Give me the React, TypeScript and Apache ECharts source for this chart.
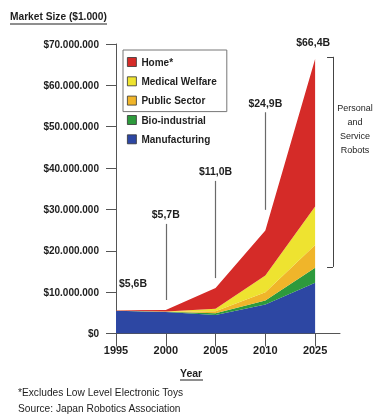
import React, { useEffect, useRef } from "react";
import * as echarts from "echarts";

// Values in billions of $ (= millions of the $1.000 unit on the axis)
const years = ["1995", "2000", "2005", "2010", "2025"];
const manufacturing = [5.5, 5.2, 4.5, 7.0, 12.3];
const bioIndustrial = [0.03, 0.03, 0.4, 1.0, 3.6];
const publicSector = [0.02, 0.03, 0.5, 2.0, 5.5];
const medicalWelfare = [0.02, 0.04, 0.6, 4.0, 9.3];
const home = [0.03, 0.4, 5.0, 10.9, 35.7];
const totalLabels = ["$5,6B", "$5,7B", "$11,0B", "$24,9B", "$66,4B"];
const totals = [5.6, 5.7, 11.0, 24.9, 66.4];
const yTicks = [0, 10, 20, 30, 40, 50, 60, 70];

// leader lines (value range, in axis units)
const leaderTop = [null, 26.5, 36.9, 53.5, null];
const leaderBottom = [null, 8.1, 13.4, 29.9, null];

const FONT = "'Liberation Sans', Arial, sans-serif";
const TXT = "#1e1e1e";
const COLORS = {
  home: "#d52b28",
  medical: "#eee330",
  public: "#f0b52a",
  bio: "#2d9a3c",
  manu: "#2d47a3",
};

export default function App() {
  const ref = useRef<HTMLDivElement>(null);
  useEffect(() => {
    if (!ref.current) return;
    const chart = echarts.init(ref.current, null, { renderer: "svg" });
    const xs = years.map((_, i) => i);
    const mk = (name: string, data: number[], color: string, extra: any = {}) => ({
      name,
      type: "line",
      stack: "total",
      // value first so that the stack is computed on the y dimension
      data: data.map((v, i) => [v, i]),
      encode: { x: 1, y: 0 },
      symbol: "none",
      lineStyle: { width: 0 },
      itemStyle: { color },
      areaStyle: { color, opacity: 1 },
      ...extra,
    });
    const leaderData: any[] = [];
    years.forEach((_, i) => {
      if (leaderTop[i] != null) {
        leaderData.push([
          { coord: [i, leaderBottom[i]], name: totalLabels[i] },
          { coord: [i, leaderTop[i]] },
        ]);
      }
    });
    const bx = 4.36;
    const bxl = 4.24;
    const bLow = 16.1;
    const bHigh = 66.9;
    const legendText = { color: TXT, fontFamily: FONT, fontWeight: "bold", fontSize: 10, lineHeight: 12 };
    chart.setOption({
      animation: false,
      grid: { left: 116, right: 34, top: 44, bottom: 83.5 },
      xAxis: {
        type: "value",
        min: 0,
        max: 4.5,
        interval: 1,
        splitLine: { show: false },
        axisLine: { show: true, lineStyle: { color: "#555", width: 1 } },
        axisTick: { show: true, length: 13, customValues: xs, lineStyle: { color: "#555" } },
        axisLabel: {
          customValues: xs,
          formatter: (v: number) => years[v] ?? "",
          color: TXT,
          fontFamily: FONT,
          fontWeight: "bold",
          fontSize: 11,
          margin: 11,
        },
      },
      yAxis: {
        type: "value",
        min: 0,
        max: 70,
        interval: 10,
        splitLine: { show: false },
        axisLine: { show: true, lineStyle: { color: "#555", width: 1 } },
        axisTick: { show: true, length: 10, lineStyle: { color: "#555" } },
        axisLabel: {
          customValues: yTicks,
          formatter: (v: number) => (v === 0 ? "$0" : `$${v}.000.000`),
          color: TXT,
          fontFamily: FONT,
          fontWeight: "bold",
          fontSize: 10,
          margin: 17,
        },
      },
      legend: [
        {
          data: ["Home*", "Medical Welfare", "Public Sector"],
          orient: "vertical",
          left: 123,
          top: 50,
          padding: [6, 10, 5, 4],
          itemGap: 7.3,
          itemWidth: 9,
          itemHeight: 9,
          itemTextGap: 5,
          icon: "rect",
          borderColor: "#777",
          borderWidth: 1,
          itemStyle: { borderColor: "#333", borderWidth: 0.8 },
          textStyle: legendText,
        },
        {
          data: ["Bio-industrial", "Manufacturing"],
          orient: "vertical",
          left: 127,
          top: 114,
          padding: 0,
          itemGap: 7.3,
          itemWidth: 9,
          itemHeight: 9,
          itemTextGap: 5,
          icon: "rect",
          itemStyle: { borderColor: "#333", borderWidth: 0.8 },
          textStyle: legendText,
        },
      ],
      series: [
        mk("Manufacturing", manufacturing, COLORS.manu, {
          markLine: {
            silent: true,
            symbol: ["none", "none"],
            lineStyle: { color: "#6a6a6a", width: 1.2, type: "solid" },
            label: {
              show: true,
              position: "end",
              formatter: "{b}",
              distance: 4,
              color: TXT,
              fontFamily: FONT,
              fontWeight: "bold",
              fontSize: 10.5,
            },
            data: leaderData,
          },
        }),
        mk("Bio-industrial", bioIndustrial, COLORS.bio),
        mk("Public Sector", publicSector, COLORS.public),
        mk("Medical Welfare", medicalWelfare, COLORS.medical),
        mk("Home*", home, COLORS.home, {
          markLine: {
            silent: true,
            symbol: ["none", "none"],
            lineStyle: { color: "#444", width: 1, type: "solid" },
            label: { show: false },
            data: [
              [{ coord: [bx, bLow] }, { coord: [bx, bHigh] }],
              [{ coord: [bxl, bHigh] }, { coord: [bx, bHigh] }],
              [{ coord: [bxl, bLow] }, { coord: [bx, bLow] }],
            ],
          },
          markPoint: {
            silent: true,
            symbol: "circle",
            symbolSize: 1,
            itemStyle: { color: "rgba(0,0,0,0)" },
            label: {
              show: true,
              position: "inside",
              formatter: "{b}",
              color: TXT,
              fontFamily: FONT,
              fontWeight: "bold",
              fontSize: 10.5,
            },
            data: [
              { coord: [0, totals[0]], name: totalLabels[0], label: { offset: [17, -27] } },
              { coord: [4, totals[4]], name: totalLabels[4], label: { offset: [-2, -17] } },
            ],
          },
        }),
      ],
      graphic: [
        {
          type: "text",
          left: 10,
          top: 11,
          style: { text: "Market Size ($1.000)", fill: TXT, font: `bold 10.2px ${FONT}` },
        },
        { type: "line", shape: { x1: 10, y1: 24, x2: 107, y2: 24 }, style: { stroke: TXT, lineWidth: 1 } },
        {
          type: "text",
          left: 180,
          top: 367,
          style: { text: "Year", fill: TXT, font: `bold 10.5px ${FONT}` },
        },
        { type: "line", shape: { x1: 180, y1: 380, x2: 203, y2: 380 }, style: { stroke: TXT, lineWidth: 1 } },
        {
          type: "text",
          left: 18,
          top: 387,
          style: { text: "*Excludes Low Level Electronic Toys", fill: TXT, font: `10.2px ${FONT}` },
        },
        {
          type: "text",
          left: 18,
          top: 403,
          style: { text: "Source: Japan Robotics Association", fill: TXT, font: `10.2px ${FONT}` },
        },
        {
          type: "text",
          x: 355,
          y: 101,
          style: {
            text: "Personal\nand\nService\nRobots",
            fill: TXT,
            font: `9px ${FONT}`,
            align: "center",
            lineHeight: 14,
          },
        },
      ],
    });
    return () => chart.dispose();
  }, []);
  return <div ref={ref} style={{ position: "fixed", left: 0, top: 0, width: 374, height: 417 }} />;
}
